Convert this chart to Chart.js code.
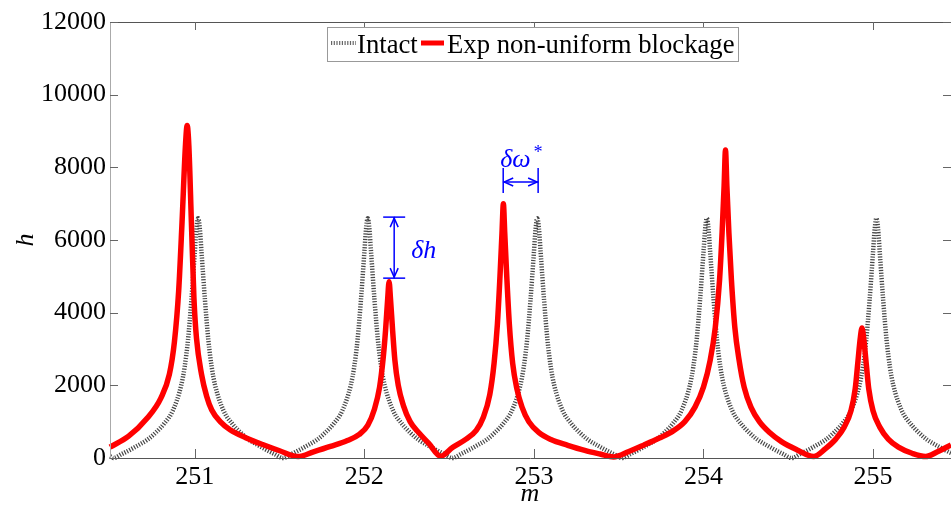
<!DOCTYPE html>
<html><head><meta charset="utf-8">
<script src="https://cdn.jsdelivr.net/npm/chart.js@4.4.1/dist/chart.umd.min.js"></script>
<style>html,body{margin:0;padding:0;background:#fff;overflow:hidden}canvas{display:block}</style>
</head><body>
<canvas id="c" width="951" height="510"></canvas>
<script>
// ---- data ----
const seriesLabels = ['Intact', 'Exp non-uniform blockage'];
const xTicks = [251, 252, 253, 254, 255];
const yTicks = [0, 2000, 4000, 6000, 8000, 10000, 12000];

const intactX = [250.50,
 250.52,250.57,250.62,250.67,250.72,250.77,250.82,250.87,250.92,250.94,250.96,250.98,251.00,251.01,251.02,251.03,251.04,251.06,251.08,251.10,251.12,251.17,251.22,251.27,251.32,251.37,251.42,251.47,
 251.52,251.57,251.62,251.67,251.72,251.77,251.82,251.87,251.92,251.94,251.96,251.98,252.00,252.01,252.02,252.03,252.04,252.06,252.08,252.10,252.12,252.17,252.22,252.27,252.32,252.37,252.42,252.47,
 252.52,252.57,252.62,252.67,252.72,252.77,252.82,252.87,252.92,252.94,252.96,252.98,253.00,253.01,253.02,253.03,253.04,253.06,253.08,253.10,253.12,253.17,253.22,253.27,253.32,253.37,253.42,253.47,
 253.52,253.57,253.62,253.67,253.72,253.77,253.82,253.87,253.92,253.94,253.96,253.98,254.00,254.01,254.02,254.03,254.04,254.06,254.08,254.10,254.12,254.17,254.22,254.27,254.32,254.37,254.42,254.47,
 254.52,254.57,254.62,254.67,254.72,254.77,254.82,254.87,254.92,254.94,254.96,254.98,255.00,255.01,255.02,255.03,255.04,255.06,255.08,255.10,255.12,255.17,255.22,255.27,255.32,255.37,255.42,255.46];
const intactY = [45,
 0,110,230,360,500,700,950,1300,2000,2500,3250,4350,5650,6300,6600,6300,5650,4350,3250,2500,2000,1300,950,700,500,360,230,110,
 0,110,230,360,500,700,950,1300,2000,2500,3250,4350,5650,6300,6600,6300,5650,4350,3250,2500,2000,1300,950,700,500,360,230,110,
 0,110,230,360,500,700,950,1300,2000,2500,3250,4350,5650,6300,6600,6300,5650,4350,3250,2500,2000,1300,950,700,500,360,230,110,
 0,110,230,360,500,700,950,1300,2000,2500,3250,4350,5650,6300,6600,6300,5650,4350,3250,2500,2000,1300,950,700,500,360,230,110,
 0,110,230,360,500,700,950,1300,2000,2500,3250,4350,5650,6300,6600,6300,5650,4350,3250,2500,2000,1300,950,700,500,360,230,140];

const expX = [
 250.50,250.61,250.72,250.80,250.85,250.88,250.905,250.925,250.945,250.955,
 250.965,250.98,250.995,251.01,251.04,251.07,251.10,251.15,251.21,251.30,251.40,251.50,251.61,
 251.70,251.80,251.90,251.97,252.02,252.06,252.09,252.11,252.125,252.138,252.146,
 252.154,252.167,252.18,252.20,252.23,252.27,252.32,252.38,252.45,
 252.52,252.60,252.66,252.70,252.74,252.765,252.785,252.80,252.812,252.82,
 252.828,252.84,252.855,252.875,252.90,252.93,252.97,253.03,253.10,253.20,253.30,253.39,253.47,
 253.56,253.65,253.74,253.82,253.89,253.95,254.00,254.04,254.07,254.095,254.11,254.122,254.13,
 254.138,254.15,254.165,254.185,254.21,254.24,254.28,254.33,254.39,254.46,254.55,254.65,
 254.72,254.78,254.83,254.87,254.895,254.912,254.925,254.935,
 254.945,254.958,254.975,255.00,255.04,255.09,255.15,255.23,255.31,255.38,255.46];
const expY = [
 300,600,1100,1650,2300,3200,4600,6500,8600,9150,
 8600,6500,4400,3300,2300,1700,1320,1000,770,560,370,200,40,
 170,320,480,650,900,1350,1950,2700,3500,4400,4850,
 4400,3500,2700,2000,1450,1000,700,400,50,
 290,520,760,1100,1750,2600,3700,5000,6200,7000,
 6200,5000,3700,2600,1900,1400,1000,700,510,350,210,110,30,
 180,360,550,740,1000,1400,1950,2700,3600,4900,6200,7500,8480,
 7500,6200,4900,3600,2700,1950,1400,1000,700,450,230,40,
 260,520,850,1300,1900,2700,3300,3580,
 3300,2700,1900,1300,850,520,300,130,40,170,360];

const intactPts = intactX.map((x, i) => ({x, y: intactY[i]}));
const expPts = expX.map((x, i) => ({x, y: expY[i]}));

const SERIF = '"Liberation Serif", "Times New Roman", serif';

function seg(ctx, x1, y1, x2, y2) { ctx.beginPath(); ctx.moveTo(x1, y1); ctx.lineTo(x2, y2); ctx.stroke(); }

const overlay = {
  id: 'overlay',
  afterDraw(chart) {
    const ctx = chart.ctx, a = chart.chartArea, sx = chart.scales.x, sy = chart.scales.y;
    ctx.save();
    ctx.setLineDash([]);
    // frame
    ctx.lineWidth = 1;
    ctx.strokeStyle = '#555';
    seg(ctx, a.left, a.top + 0.5, a.right, a.top + 0.5);
    seg(ctx, a.left, a.bottom + 0.5, a.right, a.bottom + 0.5);
    ctx.strokeStyle = '#aaa';
    seg(ctx, a.left + 0.5, a.top, a.left + 0.5, a.bottom + 1);
    // inward ticks
    ctx.strokeStyle = '#666';
    xTicks.forEach(t => { const x = Math.round(sx.getPixelForValue(t)) + 0.5; seg(ctx, x, a.top, x, a.top + 8); seg(ctx, x, a.bottom, x, a.bottom - 9); });
    yTicks.forEach(t => { const y = Math.round(sy.getPixelForValue(t)) + 0.5; seg(ctx, a.left, y, a.left + 8, y); seg(ctx, a.right, y, a.right - 8, y); });

    // legend
    ctx.fillStyle = '#fff';
    ctx.fillRect(327.5, 27.5, 411, 34);
    ctx.strokeStyle = '#999';
    ctx.lineWidth = 1;
    ctx.strokeRect(327.5, 27.5, 411, 34);
    ctx.font = '26.7px ' + SERIF;
    ctx.textAlign = 'left';
    ctx.textBaseline = 'alphabetic';
    ctx.setLineDash([1.2, 1.5]);
    ctx.lineWidth = 4;
    ctx.strokeStyle = 'rgba(0,0,0,0.6)';
    seg(ctx, 331, 43, 356, 43);
    ctx.setLineDash([]);
    ctx.fillStyle = '#000';
    ctx.fillText(seriesLabels[0], 357, 53);
    ctx.strokeStyle = '#ff0000';
    ctx.lineWidth = 5;
    seg(ctx, 421, 43, 444, 43);
    ctx.fillText(seriesLabels[1], 447, 53);

    // axis titles
    ctx.font = 'italic 26px ' + SERIF;
    ctx.textAlign = 'center';
    ctx.textBaseline = 'middle';
    ctx.fillText('m', 530, 494);
    ctx.save();
    ctx.translate(26, 240);
    ctx.rotate(-Math.PI / 2);
    ctx.fillText('h', 0, 0);
    ctx.restore();

    // annotations
    ctx.strokeStyle = '#0000ff';
    ctx.fillStyle = '#0000ff';
    ctx.lineWidth = 1.5;
    // delta h
    const hx = sx.getPixelForValue(252.176), yt = sy.getPixelForValue(6630), yb = sy.getPixelForValue(4950);
    seg(ctx, hx, yt, hx, yb);
    seg(ctx, hx - 11, yt, hx + 11, yt);
    seg(ctx, hx - 11, yb, hx + 11, yb);
    ctx.beginPath(); ctx.moveTo(hx - 4, yt + 10); ctx.lineTo(hx, yt + 1); ctx.lineTo(hx + 4, yt + 10); ctx.stroke();
    ctx.beginPath(); ctx.moveTo(hx - 4, yb - 10); ctx.lineTo(hx, yb - 1); ctx.lineTo(hx + 4, yb - 10); ctx.stroke();
    ctx.textAlign = 'left';
    ctx.textBaseline = 'alphabetic';
    ctx.font = 'italic 26px ' + SERIF;
    ctx.fillText('δh', hx + 17, (yt + yb) / 2 + 10);
    // delta omega
    const wx1 = sx.getPixelForValue(252.819), wx2 = sx.getPixelForValue(253.025), wy = sy.getPixelForValue(7595);
    seg(ctx, wx1, wy, wx2, wy);
    seg(ctx, wx1, wy - 14, wx1, wy + 11);
    seg(ctx, wx2, wy - 14, wx2, wy + 11);
    ctx.beginPath(); ctx.moveTo(wx1 + 10, wy - 4); ctx.lineTo(wx1 + 1, wy); ctx.lineTo(wx1 + 10, wy + 4); ctx.stroke();
    ctx.beginPath(); ctx.moveTo(wx2 - 10, wy - 4); ctx.lineTo(wx2 - 1, wy); ctx.lineTo(wx2 - 10, wy + 4); ctx.stroke();
    ctx.fillText('δω', wx1 - 3, wy - 15);
    const ww = ctx.measureText('δω').width;
    ctx.font = 'italic 18px ' + SERIF;
    ctx.fillText('*', wx1 - 1 + ww, wy - 24);
    ctx.restore();
  }
};

new Chart(document.getElementById('c'), {
  type: 'line',
  data: {
    datasets: [
      { label: seriesLabels[0], data: intactPts, borderColor: 'rgba(0,0,0,0.72)', borderWidth: 4.5, borderDash: [1.2, 1.5],
        pointRadius: 0, fill: false, cubicInterpolationMode: 'monotone', order: 1, clip: false },
      { label: seriesLabels[1], data: expPts, borderColor: '#ff0000', borderWidth: 5.5,
        pointRadius: 0, fill: false, cubicInterpolationMode: 'monotone', order: 0, clip: false }
    ]
  },
  options: {
    responsive: false,
    animation: false,
    devicePixelRatio: 1,
    layout: { padding: { top: 22, left: 0, right: 0, bottom: 0 } },
    plugins: { legend: { display: false }, tooltip: { enabled: false } },
    scales: {
      x: {
        type: 'linear', min: 250.5, max: 255.46,
        afterBuildTicks: s => { s.ticks = xTicks.map(v => ({ value: v })); },
        afterFit: s => { s.height = 52; },
        grid: { display: false, drawTicks: false },
        border: { display: false },
        ticks: { color: '#000', font: { family: SERIF, size: 26 }, padding: 4, maxRotation: 0, autoSkip: false, callback: v => String(v) }
      },
      y: {
        type: 'linear', min: 0, max: 12000,
        afterBuildTicks: s => { s.ticks = yTicks.map(v => ({ value: v })); },
        afterFit: s => { s.width = 110; },
        grid: { display: false, drawTicks: false },
        border: { display: false },
        ticks: { color: '#000', font: { family: SERIF, size: 26 }, padding: 4, autoSkip: false, callback: v => String(v) }
      }
    }
  },
  plugins: [overlay]
});
</script>
</body></html>
